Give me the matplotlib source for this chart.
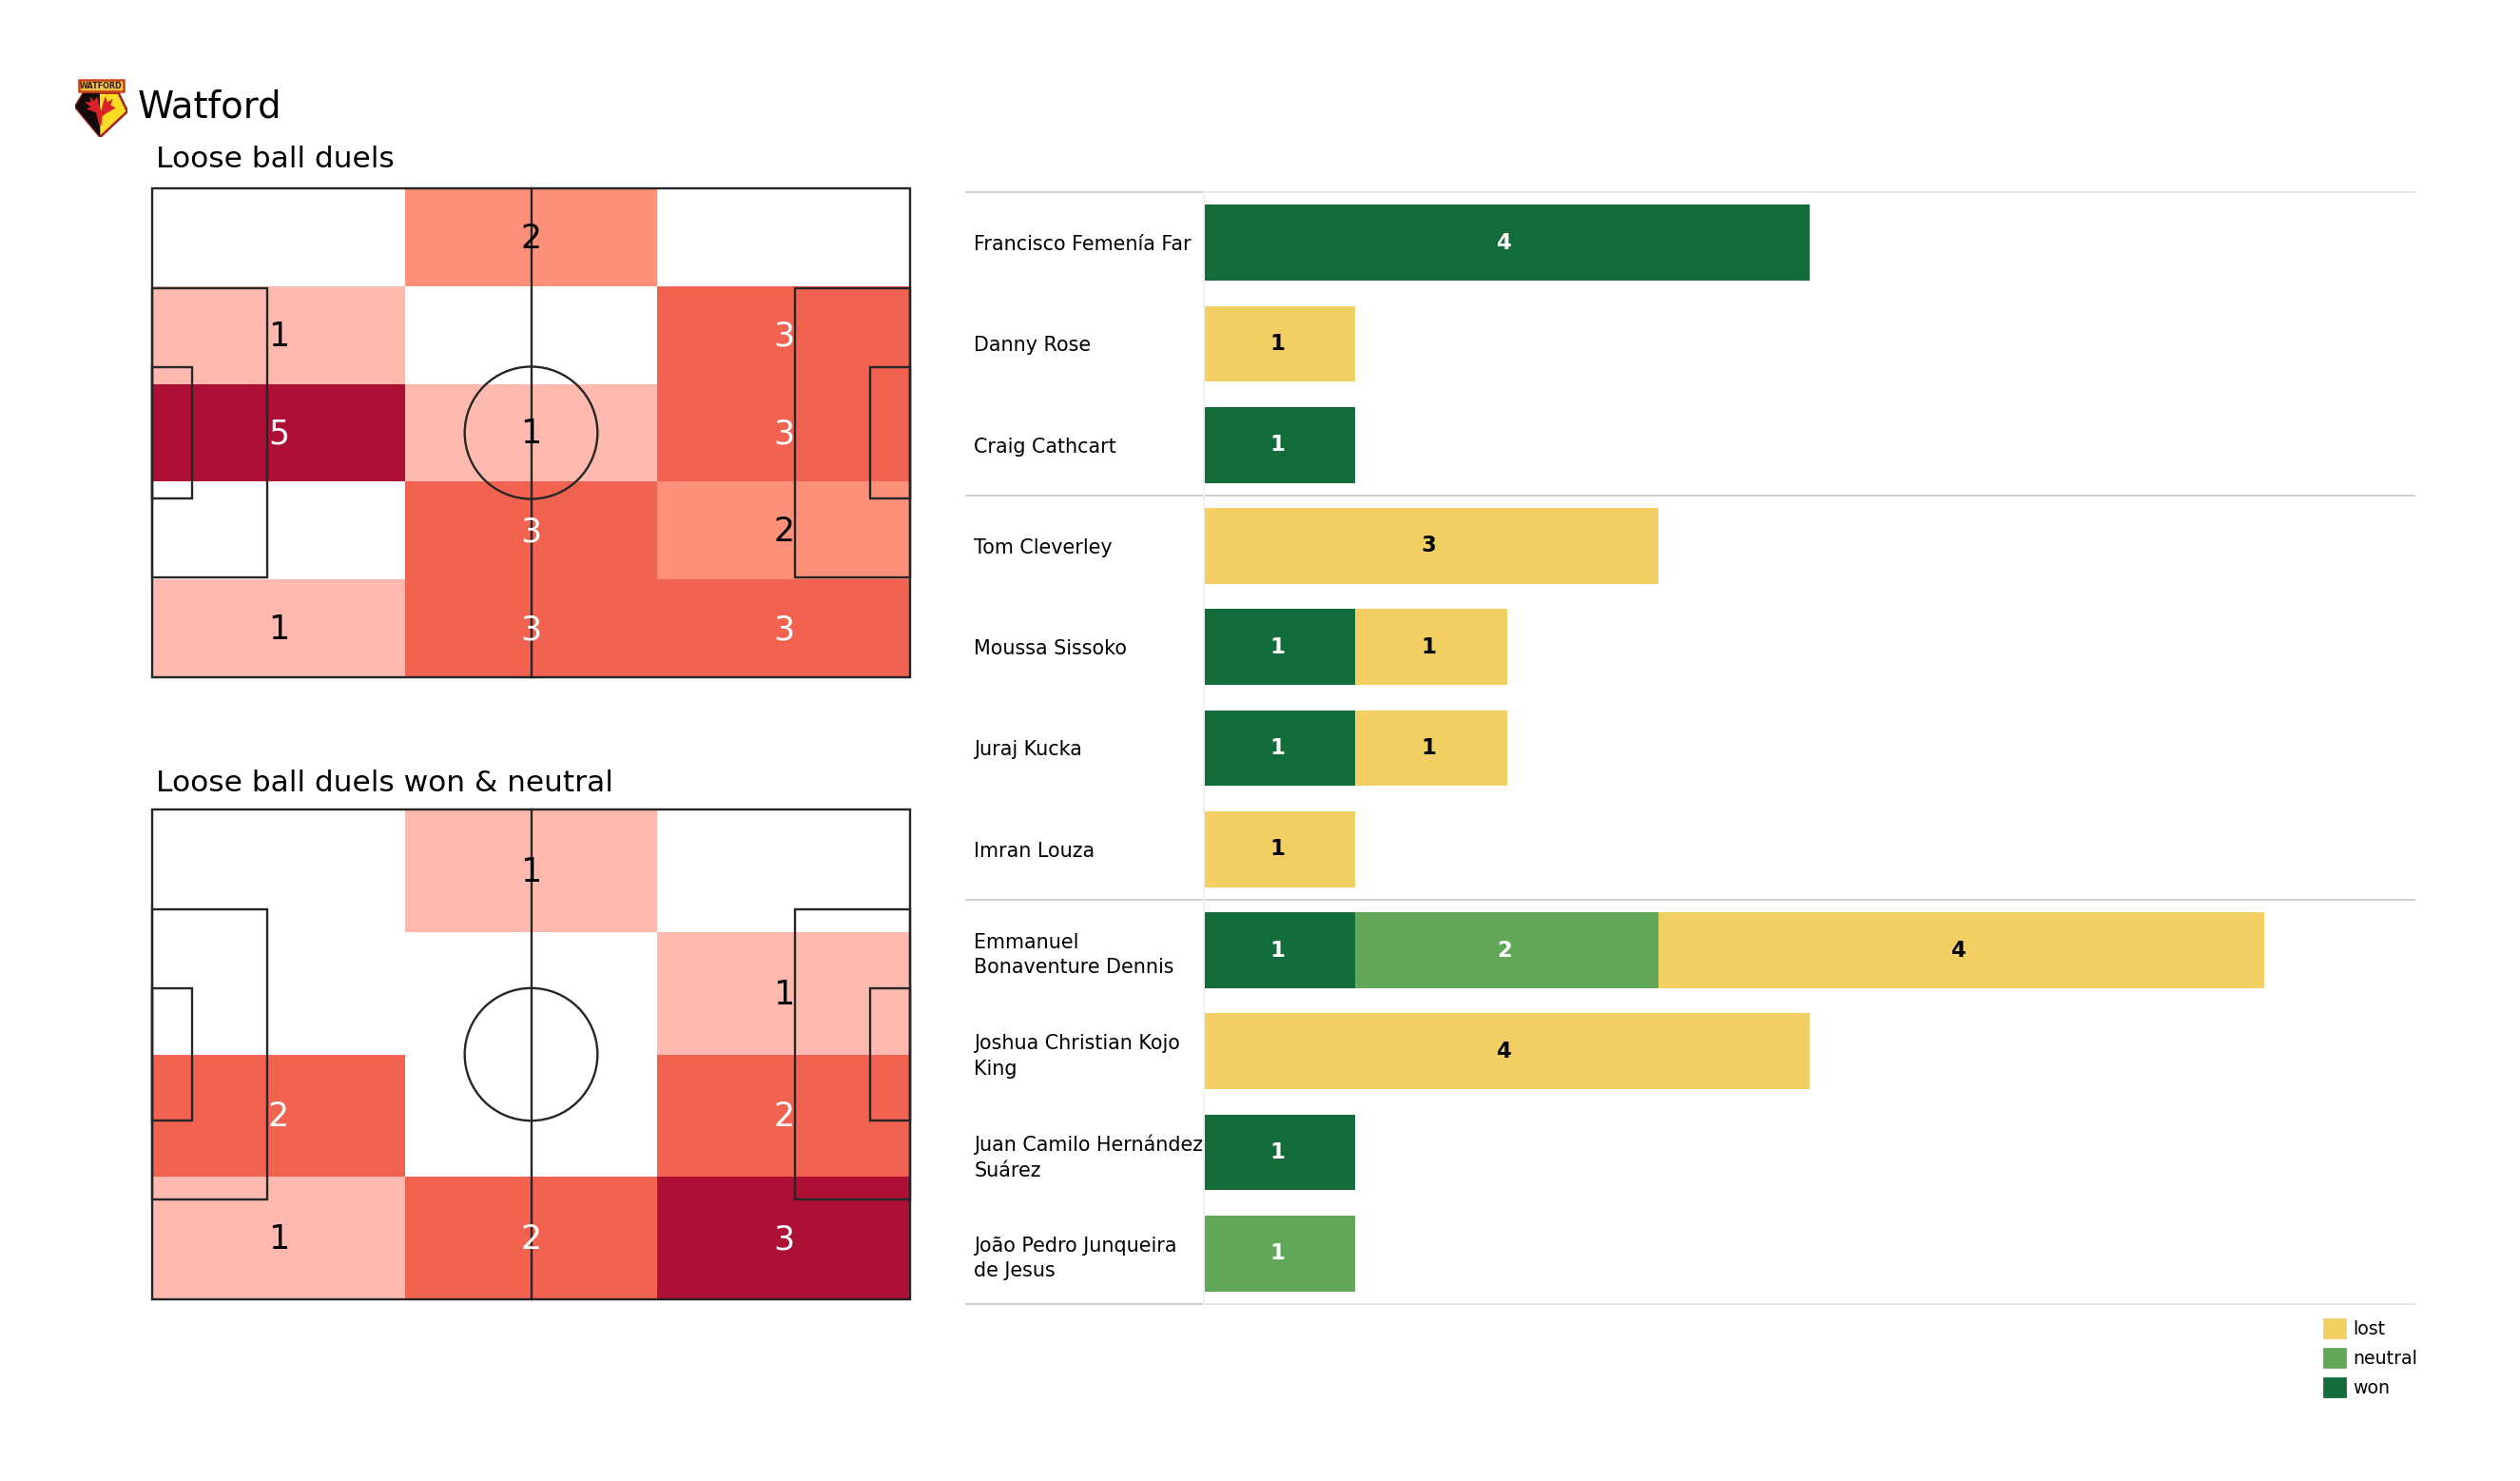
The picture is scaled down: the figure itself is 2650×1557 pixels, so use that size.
import matplotlib
matplotlib.use("Agg")
import matplotlib.pyplot as plt
import numpy as np
from matplotlib.colors import ListedColormap, BoundaryNorm
from matplotlib.patches import Rectangle, Circle, Polygon, Patch
from matplotlib.transforms import offset_copy

W, H = 2650, 1557
DPI = 200

# heatmap counts, top row first
duels_all = [[0, 2, 0],
             [1, 0, 3],
             [5, 1, 3],
             [0, 3, 2],
             [1, 3, 3]]
duels_won = [[0, 1, 0],
             [0, 0, 1],
             [2, 0, 2],
             [1, 2, 3]]

players = ["Francisco Femenía Far", "Danny Rose", "Craig Cathcart", "Tom Cleverley",
           "Moussa Sissoko", "Juraj Kucka", "Imran Louza",
           "Emmanuel\nBonaventure Dennis", "Joshua Christian Kojo\nKing",
           "Juan Camilo Hernández\nSuárez", "João Pedro Junqueira\nde Jesus"]
won = [4, 0, 1, 0, 1, 1, 0, 1, 0, 1, 0]
neutral = [0, 0, 0, 0, 0, 0, 0, 2, 0, 0, 1]
lost = [0, 1, 0, 3, 1, 1, 1, 4, 4, 0, 0]
group_breaks = [2.5, 6.5]

GREEN = "#136d3b"
MID = "#60a757"
YELLOW = "#f2cf63"


def px_axes(fig, x0, y0, x1, y1):
    # axes from pixel box, y measured from the top
    return fig.add_axes([x0 / W, 1 - y1 / H, (x1 - x0) / W, (y1 - y0) / H])


def draw_pitch(ax):
    lc = "#262626"
    kw = dict(fill=False, ec=lc, lw=0.85, zorder=3, clip_on=False)
    ax.add_patch(Rectangle((0, 0), 105, 68, **kw))
    ax.add_patch(Rectangle((0, 13.84), 16, 40.32, **kw))
    ax.add_patch(Rectangle((89, 13.84), 16, 40.32, **kw))
    ax.add_patch(Rectangle((0, 24.84), 5.5, 18.32, **kw))
    ax.add_patch(Rectangle((99.5, 24.84), 5.5, 18.32, **kw))
    ax.add_patch(Circle((52.5, 34), 9.2, **kw))
    ax.plot([52.5, 52.5], [0, 68], color=lc, lw=0.85, zorder=3, clip_on=False)


def heat_pitch(ax, grid, colors, levels, white_from):
    grid = np.array(grid)
    rows, cols = grid.shape
    xe = np.linspace(0, 105, cols + 1)
    ye = np.linspace(0, 68, rows + 1)
    bounds = [levels[0] - 0.5] + [v + 0.5 for v in levels]
    ax.pcolormesh(xe, ye, grid, cmap=ListedColormap(colors),
                  norm=BoundaryNorm(bounds, len(colors)), zorder=1)
    draw_pitch(ax)
    down = offset_copy(ax.transData, fig=ax.figure, y=-1.5, units="dots")
    for r in range(rows):
        for c in range(cols):
            v = grid[r, c]
            if v > 0:
                ax.text((xe[c] + xe[c + 1]) / 2, (ye[r] + ye[r + 1]) / 2, str(v),
                        ha="center", va="center", fontsize=12.5, zorder=4, transform=down,
                        color="white" if v >= white_from else "black")
    ax.set_xlim(0, 105)
    ax.set_ylim(68, 0)
    ax.axis("off")


def draw_crest(ax):
    # rough hand drawn club badge
    ax.add_patch(Polygon([[0, .52], [.16, .76], [.83, .76], [1, .44], [.48, 0]],
                         fc="#f9dc24", ec="#a8201c", lw=0.9))
    ax.add_patch(Polygon([[0, .52], [.16, .76], [.47, .76], [.48, 0]], fc="#140a0a", ec="none"))
    ax.add_patch(Polygon([[.07, .78], [.92, .78], [.92, .98], [.07, .98]],
                         fc="#f3c243", ec="#c9431c", lw=0.9))
    ax.text(.495, .875, "WATFORD", fontsize=2.9, weight="bold", ha="center", va="center",
            color="#2a1a10")
    antlers = [[.46, .2], [.40, .42], [.22, .48], [.30, .52], [.18, .60], [.30, .60], [.28, .70],
               [.36, .62], [.42, .70], [.46, .55], [.50, .45], [.54, .60], [.58, .70], [.62, .60],
               [.72, .66], [.68, .55], [.78, .50], [.62, .42], [.52, .36], [.50, .2]]
    ax.add_patch(Polygon(antlers, fc="#d8232a", ec="none"))
    ax.set_xlim(0, 1)
    ax.set_ylim(0, 1)
    ax.axis("off")


fig = plt.figure(figsize=(W / DPI, H / DPI), dpi=DPI)

fig.text(145 / W, 1 - 112 / H, "Watford", fontsize=13.9, va="center", ha="left")
fig.text(164 / W, 1 - 168 / H, "Loose ball duels", fontsize=11.25, va="center", ha="left")
fig.text(164 / W, 1 - 824 / H, "Loose ball duels won & neutral", fontsize=11.25, va="center", ha="left")

draw_crest(px_axes(fig, 79, 83, 134, 144))

heat_pitch(px_axes(fig, 160, 198, 957, 712), duels_all,
           ["white", "#ffb9ae", "#fc9079", "#f26250", "#ae1035"], [0, 1, 2, 3, 5], 3)
heat_pitch(px_axes(fig, 160, 851, 957, 1366), duels_won,
           ["white", "#ffb9ae", "#f26250", "#ae1035"], [0, 1, 2, 3], 2)

ax = px_axes(fig, 1266, 202, 2539, 1371)
y = np.arange(len(players))
won_arr, neu_arr, lost_arr = np.array(won), np.array(neutral), np.array(lost)
series = [(won_arr, np.zeros(len(y)), GREEN, "white"),
          (neu_arr, won_arr, MID, "white"),
          (lost_arr, won_arr + neu_arr, YELLOW, "black")]
for vals, left, col, tc in series:
    ax.barh(y, vals, left=left, height=0.75, color=col, lw=0)
    for yy, v, l in zip(y, vals, left):
        if v > 0:
            ax.text(l + v / 2 - 0.015, yy, str(v), ha="center", va="center",
                    fontsize=8.2, weight="bold", color=tc)

ax.set_xlim(0, 7.99)
ax.set_ylim(len(players) - 0.5, -0.5)
ax.set_xticks([])
ax.set_yticks(y, players, ha="left", fontsize=7.45, linespacing=1.4)
ax.tick_params(axis="y", length=0, pad=87)
for s in ["top", "right", "bottom"]:
    ax.spines[s].set_visible(False)
ax.spines["left"].set_color("#f0f0f0")
ax.spines["left"].set_linewidth(0.7)

trans = ax.get_yaxis_transform()
left_edge = (1016 - 1266) / (2539 - 1266)
for yy in [-0.5, len(players) - 0.5]:
    ax.plot([left_edge, 0], [yy, yy], transform=trans, color="#cfcfcf", lw=0.7, clip_on=False)
    ax.plot([0, 1], [yy, yy], transform=trans, color="#e6e6e6", lw=0.7, clip_on=False)
for yy in group_breaks:
    ax.plot([left_edge, 1], [yy, yy], transform=trans, color="#d0d0d0", lw=0.7, clip_on=False)

handles = [Patch(color=YELLOW, label="lost"), Patch(color=MID, label="neutral"),
           Patch(color=GREEN, label="won")]
fig.legend(handles=handles, loc="upper left", bbox_to_anchor=(2444 / W, 1 - 1387 / H),
           frameon=False, fontsize=6.8, handlelength=1.16, handleheight=1.16,
           labelspacing=0.6, handletextpad=0.42, borderpad=0, borderaxespad=0)

fig.savefig("out.png", dpi=DPI)
